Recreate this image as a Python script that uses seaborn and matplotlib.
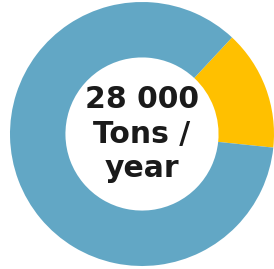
import matplotlib
matplotlib.use("Agg")
import matplotlib.pyplot as plt
import seaborn as sns

sns.set_theme(style="white")
plt.rcParams['font.family'] = ['DejaVu Sans']

categories = ["Share A", "Share B"]
values = [14.7, 85.3]
colors = ["#FFC000", "#62A7C5"]
center_text = "28 000\nTons /\nyear"

fig = plt.figure(figsize=(2.74, 2.69), dpi=100)
fig.patch.set_facecolor("white")
ax = fig.add_axes([10/274, 3/269, 264/274, 264/269])
ax.pie(values, colors=colors, startangle=47, counterclock=False,
       radius=1.0, wedgeprops=dict(width=0.42, edgecolor="none", linewidth=0))
ax.set_xlim(-1, 1)
ax.set_ylim(-1, 1)
ax.set_aspect("equal")
ax.axis("off")
ax.text(0, 0.0, center_text, ha="center", va="center", fontsize=21.5,
        fontweight="heavy", color="#1a1a1a", linespacing=1.22)
fig.savefig("out.png", dpi=100, facecolor="white")
